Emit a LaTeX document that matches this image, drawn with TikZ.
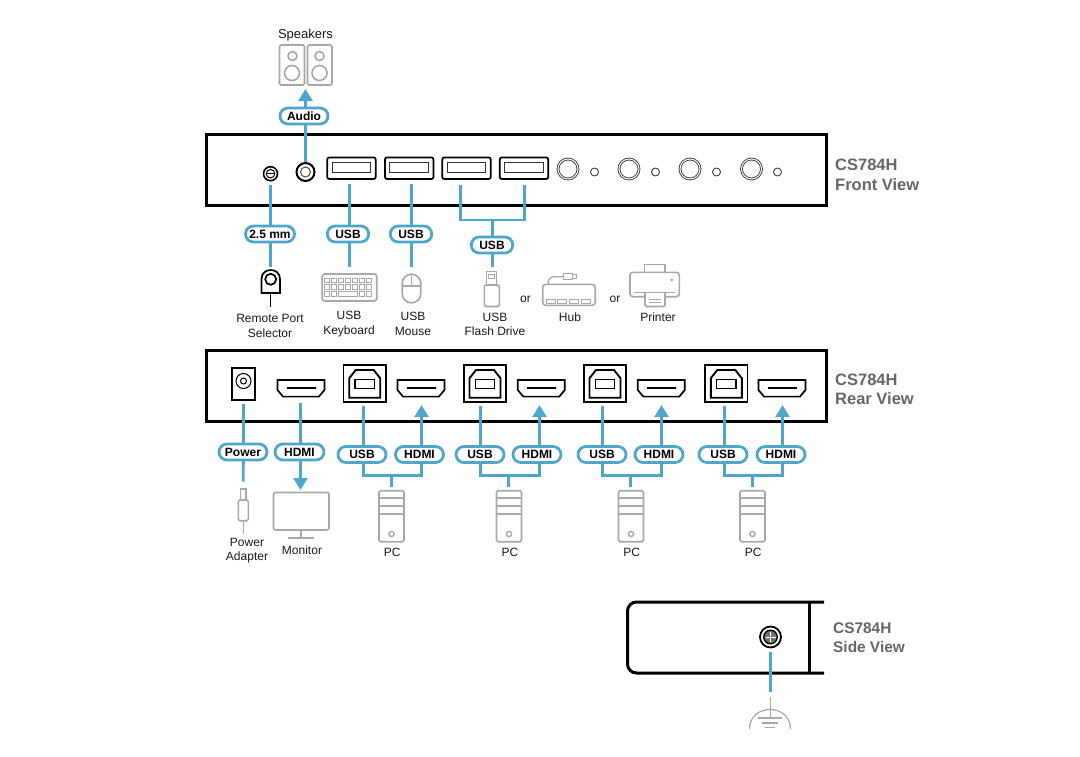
\documentclass[tikz,border=0pt]{standalone}
\usepackage{fontspec}
\setmainfont{Liberation Sans}
\usetikzlibrary{arrows.meta}
\definecolor{clb}{HTML}{4FA6CB}
\definecolor{clg}{HTML}{A8A8A8}
\definecolor{clt}{HTML}{666666}
\definecolor{clk}{HTML}{1A1A1A}
\tikzset{>={Triangle[width=14pt, length=12pt]}}
\tikzset{
    panel/.style={draw=black, line width=3, minimum width=620, minimum height=71, inner sep=0},
    port/.style={draw=black, line width=1.7, inner sep=0},
    hole/.style={draw=black, circle, inner sep=0},
    btn/.style={circle, draw=clk!85, line width=.9, double=white, double distance=1, minimum size=20, inner sep=0},
    led/.style={circle, draw=clk!85, line width=.9, minimum size=8, inner sep=0},
    icon/.style={draw=clg, line width=1.6, inner sep=0, rounded corners=1.5},
    blank/.style={inner sep=0, outer sep=0},
    link/.style={draw=clb, line width=2.8},
    pill/.style={draw=clb, line width=2.8, fill=white, rounded corners=8, minimum height=16, inner sep=0, text=black,
        font=\fontsize{12}{14}\selectfont\bfseries},
    lbl/.style={align=center, inner sep=0, text=clk, font=\fontsize{12}{14.5}\selectfont},
    ttl/.style={align=left, anchor=west, inner sep=0, text=clt, font=\fontsize{16.5}{19.5}\selectfont\bfseries},
    hdmiport/.pic={
        \node[blank, minimum width=47, minimum height=16.6](-box){};
        \draw[black, line width=1.7](-23.5, -8.3)--(23.5, -8.3)--(23.5, 1.7)--(18, 8.3)--(-18, 8.3)--(-23.5, 1.7)--cycle;
        \draw[black, line width=1.5](-14.5, -.5)--(14.5, -.5);
    },
    usbbport/.pic={
        \node[port, minimum width=42.5, minimum height=37](-box){};
        \draw[black, line width=1.9](-15.5, 14)--(-15.5, -5.5)--(-9, -13.7)--(9, -13.7)--(15.5, -5.5)--(15.5, 14)--cycle;
        \draw[black, line width=1.5](-9.7, -4.4)rectangle(9.7, 5);
    },
    usbaport/.pic={
        \node[port, rounded corners=2, minimum width=48.5, minimum height=21.5](-box){};
        \draw[black!80, line width=1](-19.3, -6)rectangle(19.3, 4);
    },
    pcicon/.pic={
        \node[icon, minimum width=25, minimum height=51](-box){};
        \draw[clg, line width=1.6](-12.5, -18)--(12.5, -18);
        \draw[clg, line width=1.6](-12.5, -10.2)--(12.5, -10.2);
        \draw[clg, line width=1.6](-12.5, -2.2)--(12.5, -2.2);
        \draw[clg, line width=1.4](0, 17.8)circle(2.6);
    },
}

\begin{document}
\begin{tikzpicture}[x=1pt, y=-1pt]
    \useasboundingbox(0, 0)rectangle(1080, 756);

    \node[panel](front)at(516, 170){};
    \node[panel](rear)at(516, 386){};
    \draw[black, line width=3, rounded corners=9](824, 602)--(627.5, 602)--(627.5, 673)--(824, 673);
    \draw[black, line width=3](809, 602)--(809, 673);

    \node[hole, line width=1.6, minimum size=14](jack)at(270.5, 173.7){};
    \draw[black, line width=1](270.5, 173.7)circle(4.3);
    \draw[black, line width=1](266.2, 173.7)--(274.8, 173.7);
    \node[hole, line width=2, minimum size=18](audio)at(305.5, 172){};
    \draw[black!70, line width=1](305.5, 172)circle(5);
    \pic(ua1)at(351.5, 168.2){usbaport};
    \pic(ua2)at(409.2, 168.2){usbaport};
    \pic(ua3)at(466.5, 168.2){usbaport};
    \pic(ua4)at(524, 168.2){usbaport};
    \node[btn](bt1)at(568, 169){};
    \node[led](ld1)at(594.5, 172){};
    \node[btn](bt2)at(629, 169){};
    \node[led](ld2)at(655.5, 172){};
    \node[btn](bt3)at(690, 169){};
    \node[led](ld3)at(716.5, 172){};
    \node[btn](bt4)at(751.5, 169){};
    \node[led](ld4)at(777.5, 172){};
    \node[ttl](tf)at(835, 174.8){CS784H\\Front View};

    \node[port, minimum width=22.5, minimum height=32](dc)at(243.5, 384){};
    \draw[black, line width=1](243.5, 381)circle(7.5);
    \draw[black, line width=1](243.5, 381)circle(3);
    \pic(hm0)at(301, 388.3){hdmiport};
    \pic(ub1)at(364.7, 383.7){usbbport};
    \pic(hm1)at(421, 388.3){hdmiport};
    \pic(ub2)at(485, 383.7){usbbport};
    \pic(hm2)at(541.3, 388.3){hdmiport};
    \pic(ub3)at(605, 383.7){usbbport};
    \pic(hm3)at(661.3, 388.3){hdmiport};
    \pic(ub4)at(726.3, 383.7){usbbport};
    \pic(hm4)at(782, 388.3){hdmiport};
    \node[ttl](tr)at(835, 389.3){CS784H\\Rear View};

    \node[hole, line width=1.8, minimum size=21](screw)at(770.5, 637){};
    \draw[black, fill=black!55, line width=1.3](770.5, 637)circle(6.8);
    \draw[white, line width=1](765.5, 637)--(775.5, 637);
    \draw[white, line width=1](770.5, 632)--(770.5, 642);
    \node[ttl, font=\fontsize{15.4}{18.5}\selectfont\bfseries](ts)at(833, 637.5){CS784H\\Side View};

    \node[blank, minimum width=52.5, minimum height=40](spk)at(305.7, 65){};
    \draw[icon](279.5, 45)rectangle(304.5, 85);
    \draw[icon](307.5, 45)rectangle(332, 85);
    \draw[clg, line width=1.6](292.5, 56)circle(4.5);
    \draw[clg, line width=1.6](292, 73)circle(7.5);
    \draw[clg, line width=1.6](319.5, 56)circle(4.5);
    \draw[clg, line width=1.6](319.5, 73)circle(7.5);
    \node[lbl, font=\fontsize{13}{15}\selectfont](tspk)at(305.5, 34.7){Speakers};

    \node[blank, minimum width=19, minimum height=23](sel)at(270.5, 281.5){};
    \draw[black, line width=1.7](261.5, 293)--(261.5, 279) .. controls (261.5, 267) and (280, 267) .. (280, 279)--(280, 293)--cycle;
    \draw[black, line width=1.7](270.7, 279.3)circle(5.5);
    \draw[black, line width=1.7](270.5, 293)--(270.5, 306.5);
    \node[lbl](tsel)at(270, 326){Remote Port\\Selector};

    \node[icon, rounded corners=2.5, minimum width=54.5, minimum height=27](kbd)at(349.5, 287.5){};
    \foreach \i in {0, ..., 6}{
        \draw[clg, line width=1](324.5+6.95*\i, 278)rectangle(329.5+6.95*\i, 282.5);
        \draw[clg, line width=1](324.5+6.95*\i, 284.7)rectangle(329.5+6.95*\i, 289.2);
    }
    \foreach \i in {0, 1, 5, 6}{
        \draw[clg, line width=1](324.5+6.95*\i, 291.7)rectangle(329.5+6.95*\i, 296.5);
    }
    \draw[clg, line width=1](338.4, 291.7)rectangle(357.3, 296.5);
    \node[lbl](tkbd)at(349, 324){USB\\Keyboard};

    \node[icon, rounded corners=9, minimum width=18.5, minimum height=28.5](mou)at(411.5, 288.5){};
    \draw[clg, line width=1.5](402.2, 286)--(420.8, 286);
    \draw[clg, line width=1.5](411.5, 274.2)--(411.5, 286);
    \node[lbl](tmou)at(413, 324){USB\\Mouse};

    \node[blank, minimum width=15, minimum height=35](drv)at(491.7, 289){};
    \draw[icon](484.3, 285)rectangle(499.3, 306.5);
    \draw[clg, line width=1.4](486.7, 285)--(486.7, 271.7)--(496.7, 271.7)--(496.7, 285);
    \draw[clg, line width=1](488.8, 274.5)rectangle(494.6, 278);
    \node[lbl](tdrv)at(495, 324.5){USB\\Flash Drive};
    \node[lbl](or1)at(525.5, 299){or};

    \node[icon, rounded corners=3, minimum width=52.5, minimum height=21](hub)at(569, 294.8){};
    \draw[clg, line width=1.3](548, 284) .. controls (548, 278) and (551, 276.7) .. (555, 276.7)--(563.3, 276.7);
    \draw[clg, line width=1.3](563.3, 273.5)rectangle(572.7, 279.5);
    \draw[clg, line width=1.1](572.7, 274.5)rectangle(576.7, 278.5);
    \draw[clg, line width=1](546, 299.5)rectangle(555, 303);
    \draw[clg, line width=1](557.5, 299.5)rectangle(566.5, 303);
    \draw[clg, line width=1](569, 299.5)rectangle(578, 303);
    \draw[clg, line width=1](581, 299.5)rectangle(590, 303);
    \node[lbl](thub)at(570, 317.2){Hub};
    \node[lbl](or2)at(615, 299){or};

    \node[blank, minimum width=50, minimum height=42](prn)at(654.7, 285.5){};
    \draw[clg, line width=1.6](644.3, 272.3)--(644.3, 264.3)--(665, 264.3)--(665, 272.3);
    \draw[clg, line width=1.6, rounded corners=3](645, 296.7)--(630, 296.7)--(630, 272.3)--(679.3, 272.3)--(679.3, 296.7)--(665, 296.7);
    \draw[clg, line width=1.4](634, 292.7)--(675, 292.7);
    \draw[clg, line width=1.6, rounded corners=1.5](645, 292.7)--(645, 306.5)--(665, 306.5)--(665, 292.7);
    \draw[clg, line width=1](649.3, 299.3)--(660.7, 299.3);
    \draw[clg, line width=1](649.3, 302.7)--(660.7, 302.7);
    \fill[clg](671.7, 280)circle(1.6);
    \node[lbl](tprn)at(658, 317.2){Printer};

    \node[blank, minimum width=10, minimum height=49](adp)at(243.3, 510){};
    \draw[clg, line width=1.4](240.7, 500)--(240.7, 489)--(246, 489)--(246, 500);
    \draw[icon](238.3, 500)rectangle(248.3, 520.7);
    \draw[clg, line width=1.4](243.3, 520.7)--(243.3, 534.3);
    \node[lbl](tadp)at(247, 550.8){Power\\Adapter};

    \node[icon, rounded corners=2, minimum width=55.5, minimum height=37.5](mon)at(301.2, 511.2){};
    \draw[clg, line width=1.6](301.2, 530)--(301.2, 537.7);
    \draw[clg, line width=1.6](288.3, 537.7)--(314.3, 537.7);
    \node[lbl](tmon)at(302, 550.5){Monitor};

    \pic(pc1)at(391.5, 516.2){pcicon};
    \pic(pc2)at(509, 516.2){pcicon};
    \pic(pc3)at(631, 516.2){pcicon};
    \pic(pc4)at(752.5, 516.2){pcicon};
    \node[lbl](tp1)at(392.3, 552.8){PC};
    \node[lbl](tp2)at(510, 552.8){PC};
    \node[lbl](tp3)at(631.7, 552.8){PC};
    \node[lbl](tp4)at(753.3, 552.8){PC};

    \coordinate(gnd)at(770.5, 697);
    \draw[clg, line width=1.2](gnd)--(770.5, 718);
    \draw[clg, line width=1.2](749.5, 729) .. controls (749.5, 703) and (790.5, 703) .. (790.5, 729);
    \draw[clg, line width=1.2](758, 718)--(782, 718);
    \draw[clg, line width=1.2](762, 723)--(778, 723);
    \draw[clg, line width=1.2](765, 727.5)--(775, 727.5);

    \coordinate(br)at(492.5, 220);
    \coordinate(j1)at(391.5, 475.7);
    \coordinate(j2)at(508.5, 475.7);
    \coordinate(j3)at(630.5, 475.7);
    \coordinate(j4)at(752.5, 475.7);

    \draw[link, ->, shorten >=4](audio)--(audio|-spk.south);
    \draw[link, shorten <=3.5, shorten >=3.3](jack.south)--(sel.north);
    \draw[link, shorten <=3.7, shorten >=6](ua1-box.south-|kbd)--(kbd.north);
    \draw[link, shorten <=3.7, shorten >=6](ua2-box.south-|mou)--(mou.north);
    \draw[link, shorten <=5.5](ua3-box.south-|460.5, 0)|-(br);
    \draw[link, shorten <=5.5](ua4-box.south-|524.5, 0)|-(br);
    \draw[link, shorten >=5](br)--(br|-drv.north);

    \draw[link, shorten <=3.2, shorten >=4](dc.south)--(adp.north);
    \draw[link, ->, shorten <=6.5, shorten >=2.3](hm0-box.south-|300.5, 0)--(300.5, 492.3);
    \draw[link, shorten <=3.4](ub1-box.south-|363.5, 0)|-(j1);
    \draw[link, <-, shorten <=8.5](hm1-box.south-|421.5, 0)|-(j1);
    \draw[link, shorten >=2.5](j1)--(j1|-pc1-box.north);
    \draw[link, shorten <=3.4](ub2-box.south-|480.5, 0)|-(j2);
    \draw[link, <-, shorten <=8.5](hm2-box.south-|539.5, 0)|-(j2);
    \draw[link, shorten >=2.5](j2)--(j2|-pc2-box.north);
    \draw[link, shorten <=3.4](ub3-box.south-|602.5, 0)|-(j3);
    \draw[link, <-, shorten <=8.5](hm3-box.south-|661.5, 0)|-(j3);
    \draw[link, shorten >=2.5](j3)--(j3|-pc3-box.north);
    \draw[link, shorten <=3.4](ub4-box.south-|724.5, 0)|-(j4);
    \draw[link, <-, shorten <=8.5](hm4-box.south-|782.5, 0)|-(j4);
    \draw[link, shorten >=2.5](j4)--(j4|-pc4-box.north);
    \draw[link, shorten <=4, shorten >=5](screw.south)--(gnd);

    \node[pill, minimum width=48](pa)at(304, 116){Audio};
    \node[pill, minimum width=49](pj)at(270, 234){2.5 mm};
    \node[pill, minimum width=41.5](pk)at(348, 234){USB};
    \node[pill, minimum width=41.5](pm)at(411, 234){USB};
    \node[pill, minimum width=41.5](pd)at(492, 245){USB};
    \node[pill, minimum width=48](pp)at(243, 452){Power};
    \node[pill, minimum width=49](ph)at(299.5, 452){HDMI};
    \node[pill, minimum width=48](pu1)at(362, 454.5){USB};
    \node[pill, minimum width=48](ph1)at(419.5, 454.5){HDMI};
    \node[pill, minimum width=48](pu2)at(480, 454.5){USB};
    \node[pill, minimum width=48](ph2)at(537, 454.5){HDMI};
    \node[pill, minimum width=48](pu3)at(602, 454.5){USB};
    \node[pill, minimum width=48](ph3)at(659, 454.5){HDMI};
    \node[pill, minimum width=48](pu4)at(723, 454.5){USB};
    \node[pill, minimum width=48](ph4)at(781, 454.5){HDMI};
\end{tikzpicture}
\end{document}
